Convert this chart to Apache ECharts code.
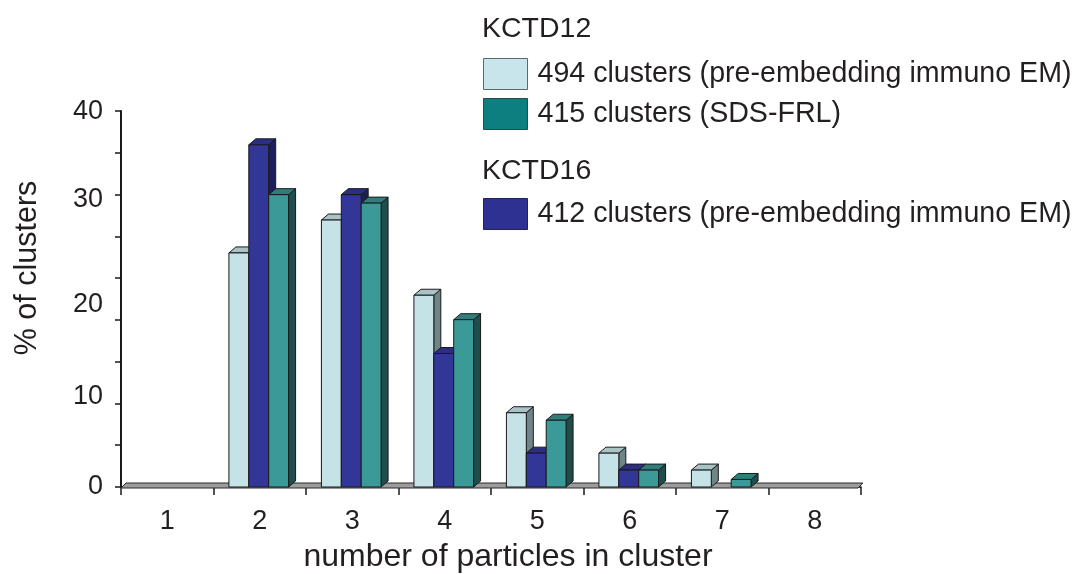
<!DOCTYPE html>
<html>
<head>
<meta charset="utf-8">
<script src="https://cdn.jsdelivr.net/npm/echarts@6/dist/echarts.min.js"></script>
<style>html,body{margin:0;padding:0;background:#fff;}#c{width:1077px;height:574px;}</style>
</head>
<body>
<div id="c"></div>
<script>
var categories = ['1', '2', '3', '4', '5', '6', '7', '8'];
var kctd12Pre = [0, 24.9, 28.4, 20.4, 7.9, 3.6, 1.8, 0];
var kctd16Pre = [0, 36.4, 31.1, 14.2, 3.6, 1.8, 0, 0];
var kctd12Frl = [0, 31.1, 30.2, 17.8, 7.1, 1.8, 0.8, 0];
var seriesNames = ['494 clusters (pre-embedding immuno EM)', '412 clusters (pre-embedding immuno EM)', '415 clusters (SDS-FRL)'];
var yTickLabels = [0, 10, 20, 30, 40];

var FONT = '"Liberation Sans", Arial, Helvetica, sans-serif';
var TXT = '#231f20';
var palettes = [
  {front: '#c5e2e7', cap: '#a9c3c7', side: '#6f8689', legend: '#c8e5eb'},
  {front: '#323797', cap: '#2b2e82', side: '#1d1f5a', legend: '#2e3192'},
  {front: '#3b9a97', cap: '#2f7e7b', side: '#1e4e4c', legend: '#0d7f80'}
];
var DX = 7, DY = 6;
var yLabelStyleKey = {'0': 'n0', '10': 'n10', '20': 'n20', '30': 'n30', '40': 'n40'};

function toData(arr) { return arr.map(function (v, i) { return [i, v]; }); }

function barRenderer(idx) {
  var p = palettes[idx];
  return function (params, api) {
    var cat = api.value(0), v = api.value(1);
    if (!v) return null;
    var band = api.size([1, 0])[0];
    var bw = band * 0.215;
    var top = api.coord([cat, v]);
    var base = api.coord([cat, 0]);
    var x0 = top[0] - 1.5 * bw + idx * bw - 1;
    var x1 = x0 + bw;
    var yT = top[1], yB = base[1];
    var stroke = {stroke: '#1a1a1a', lineWidth: 1};
    return {
      type: 'group',
      children: [
        {type: 'polygon', shape: {points: [[x1, yT], [x1 + DX, yT - DY], [x1 + DX, yB - DY], [x1, yB]]},
          style: Object.assign({fill: p.side}, stroke)},
        {type: 'polygon', shape: {points: [[x0, yT], [x0 + DX, yT - DY], [x1 + DX, yT - DY], [x1, yT]]},
          style: Object.assign({fill: p.cap}, stroke)},
        {type: 'rect', shape: {x: x0, y: yT, width: bw, height: yB - yT},
          style: Object.assign({fill: p.front}, stroke)}
      ]
    };
  };
}

function floorRenderer(params, api) {
  var band = api.size([1, 0])[0];
  var a = api.coord([0, 0]);
  var b = api.coord([categories.length - 1, 0]);
  var left = a[0] - band / 2, right = b[0] + band / 2, y = a[1];
  return {
    type: 'polygon',
    shape: {points: [[left, y + 1], [left + 5, y - 4], [right + 2, y - 4], [right - 3, y + 1]]},
    style: {fill: '#9c9c9c', stroke: '#2a2a2a', lineWidth: 1}
  };
}

var labelBase = {fontFamily: FONT, fontSize: 27, color: TXT};
var chart = echarts.init(document.getElementById('c'), null, {renderer: 'canvas'});
var option = {
  animation: false,
  backgroundColor: '#ffffff',
  textStyle: {fontFamily: FONT, color: TXT},
  title: [
    {text: 'KCTD12', left: 482, top: 15, padding: 0,
      textStyle: {fontFamily: FONT, fontSize: 28.5, fontWeight: 'normal', color: TXT}},
    {text: 'KCTD16', left: 482, top: 157, padding: 0,
      textStyle: {fontFamily: FONT, fontSize: 28.5, fontWeight: 'normal', color: TXT}}
  ],
  legend: [
    {
      orient: 'vertical', left: 483, top: 58, padding: 0, itemGap: 8,
      itemWidth: 44, itemHeight: 31, icon: 'rect', selectedMode: false,
      textStyle: {fontFamily: FONT, fontSize: 28.6, color: TXT, padding: [0, 0, 0, 5]},
      data: [
        {name: seriesNames[0], itemStyle: {color: palettes[0].legend, borderColor: '#5a6a6c', borderWidth: 1}},
        {name: seriesNames[2], itemStyle: {color: palettes[2].legend, borderColor: '#2a4a4a', borderWidth: 1}}
      ]
    },
    {
      orient: 'vertical', left: 483, top: 198, padding: 0,
      itemWidth: 44, itemHeight: 31, icon: 'rect', selectedMode: false,
      textStyle: {fontFamily: FONT, fontSize: 28.6, color: TXT, padding: [0, 0, 0, 5]},
      data: [
        {name: seriesNames[1], itemStyle: {color: palettes[1].legend, borderColor: '#222255', borderWidth: 1}}
      ]
    }
  ],
  grid: {left: 121, right: 216, top: 111, bottom: 87, containLabel: false, outerBoundsMode: 'none'},
  xAxis: {
    type: 'category', data: categories, boundaryGap: true,
    name: 'number of particles in cluster', nameLocation: 'middle', nameGap: 54,
    nameTextStyle: {fontFamily: FONT, fontSize: 32, color: TXT, padding: [0, 0, 0, 34]},
    axisLine: {show: true, lineStyle: {color: '#1a1a1a', width: 1.5}},
    axisTick: {show: true, alignWithLabel: false, length: 8, lineStyle: {color: '#1a1a1a', width: 1.5}},
    axisLabel: {fontFamily: FONT, fontSize: 27, color: TXT, margin: 21},
    splitLine: {show: false}
  },
  yAxis: [
    {
      type: 'value', min: 0, max: 40, interval: 10,
      name: '% of clusters', nameLocation: 'middle', nameGap: 78, nameRotate: 90,
      nameTextStyle: {fontFamily: FONT, fontSize: 30.5, color: TXT, padding: [0, 0, 0, 62]},
      axisLine: {show: false}, axisTick: {show: false}, splitLine: {show: false},
      axisLabel: {
        fontFamily: FONT, fontSize: 27, color: TXT, margin: 18,
        formatter: function (v) {
          return yTickLabels.indexOf(v) >= 0 ? '{' + yLabelStyleKey[String(v)] + '|' + v + '}' : '';
        },
        rich: {
          n0: Object.assign({padding: [0, 0, 0, 0]}, labelBase),
          n10: Object.assign({padding: [8, 0, 0, 0]}, labelBase),
          n20: Object.assign({padding: [12, 0, 0, 0]}, labelBase),
          n30: Object.assign({padding: [0, 0, 10, 0]}, labelBase),
          n40: Object.assign({padding: [2, 0, 0, 0]}, labelBase)
        }
      }
    },
    {
      type: 'value', min: 0, max: 40, interval: 40 / 9, position: 'left',
      axisLine: {show: true, lineStyle: {color: '#1a1a1a', width: 2}},
      axisTick: {show: true, length: 6, lineStyle: {color: '#1a1a1a', width: 1.5}},
      axisLabel: {show: false}, splitLine: {show: false}
    }
  ],
  series: [
    {type: 'custom', name: 'floor', renderItem: floorRenderer, data: [[0, 0]], clip: false, z: 1,
      encode: {x: 0, y: 1}, silent: true},
    {type: 'custom', name: seriesNames[0], renderItem: barRenderer(0), data: toData(kctd12Pre),
      encode: {x: 0, y: 1}, clip: false, z: 2, itemStyle: {color: palettes[0].legend}},
    {type: 'custom', name: seriesNames[1], renderItem: barRenderer(1), data: toData(kctd16Pre),
      encode: {x: 0, y: 1}, clip: false, z: 3, itemStyle: {color: palettes[1].legend}},
    {type: 'custom', name: seriesNames[2], renderItem: barRenderer(2), data: toData(kctd12Frl),
      encode: {x: 0, y: 1}, clip: false, z: 4, itemStyle: {color: palettes[2].legend}}
  ]
};
chart.setOption(option);
</script>
</body>
</html>
